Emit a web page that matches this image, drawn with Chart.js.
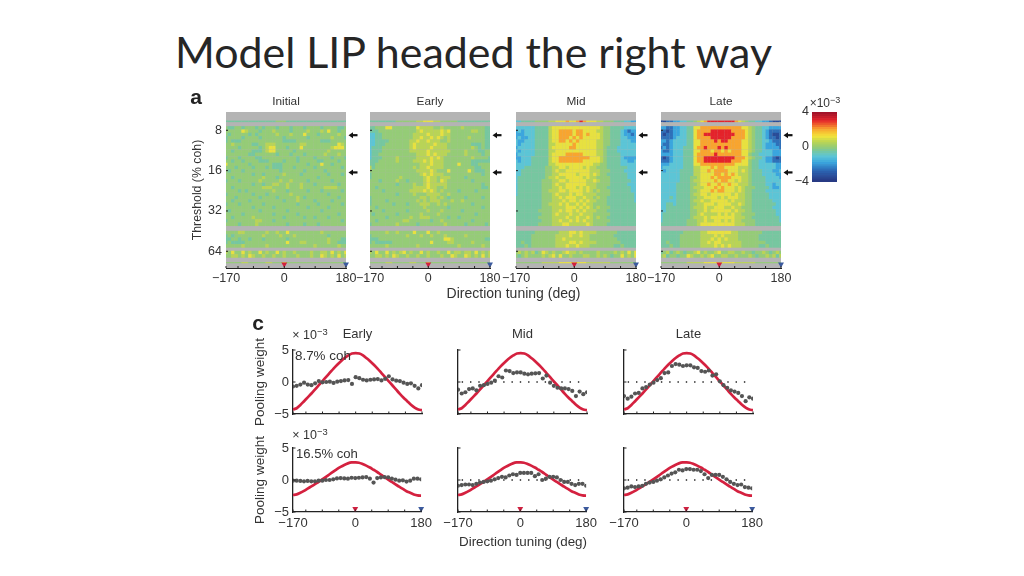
<!DOCTYPE html>
<html><head><meta charset="utf-8">
<script src="https://cdn.jsdelivr.net/npm/chart.js@4"></script>
<style>
html,body{margin:0;padding:0;background:#fff;width:1024px;height:576px;overflow:hidden}
#fig{position:absolute;left:0;top:0;width:1024px;height:576px;filter:blur(0.55px)}
#fig canvas{position:absolute}
.t{position:absolute;font-family:"Liberation Sans",Arial,sans-serif;color:#333;white-space:nowrap;transform:translate(-50%,-50%)}
.t sup{font-size:75%;line-height:0;vertical-align:0.45em}
#title{position:absolute;left:175px;top:24px;font-family:Lato,sans-serif;font-size:42.9px;color:#262626;white-space:nowrap;line-height:56px}
</style></head><body>
<div id="title">Model LIP headed the right way</div>
<div id="fig"></div>
<script>
// ---------- data ----------
const tuningDeg=[-170,-160,-150,-140,-130,-120,-110,-100,-90,-80,-70,-60,-50,-40,-30,-20,-10,0,10,20,30,40,50,60,70,80,90,100,110,120,130,140,150,160,170,180];
const rowThresholds=[6.86,7.68,8.13,8.61,9.11,9.65,10.2,10.8,11.5,12.1,12.9,13.6,14.4,15.2,16.1,17.1,18.1,19.1,20.3,21.5,22.7,24.1,25.5,27.0,28.5,30.2,32.0,33.9,35.9,38.0,40.2,46.4,49.2,52.0,55.1,58.3,65.4,69.3,77.8];
const heatTitles=["Initial","Early","Mid","Late"];
const thresholdTicks=[8,16,32,64];
const arrowThresholds=[8.7,16.5];
const tuningTicks=[-170,-135,-90,-45,0,45,90,135,180];
const heatLevels=[-3.4,-2.6,-1.8,-1.1,-0.5,-0.05,0.5,1.05,2,3];
const heatInitial=[
"4444444444 4444455544444444 4444444444",
"5445545554 5455545554555455 5545555445",
"5555576555 4555655554555565 5565755455",
"5455555454 5555565556555755 5455555655",
"4555545555 4555555455555545 5555565554",
"4544455555 5555555444455555 5544455555",
"5565555544 5566655555556655 5555555765",
"5555455555 4567755545557555 5555567775",
"5545555544 4567755555455555 5555655555",
"5555555445 5555545554555455 5556555655",
"4555455554 4555555555545555 4555545554",
"5545545555 4445555455545555 5445555455",
"7555555455 5555444555555545 5575545555",
"5554555545 5545444555455555 4555555545",
"5455545555 5555554555555455 5554555555",
"5555555545 5455555655554555 5555455545",
"5545555555 5655545555555555 5455555555",
"4555455555 6555556556555545 5555545555",
"5555555545 5455665565556555 4555555455",
"5545555555 5666555565556555 5556666555",
"5555454555 5555655545555545 5545555545",
"4555555545 5545555556555555 5555455555",
"5554555555 4555545555565455 5555555455",
"5545555455 5555555455565555 4555545555",
"4555455555 5455555555545555 5455555545",
"5555555545 5555455555555545 5555455555",
"5455555555 4555555545555555 5545555555",
"5555545555 5555455555545555 5555555455",
"5545555565 5555555455555455 4555455555",
"4555555556 6555455555555555 5555555545",
"5555455556 5555555545555455 5455555555",
"5555665555 5565565575555555 5565555555",
"4545555555 5655556555655555 5555455555",
"4455455455 5455555545555555 5555655544",
"4544445555 5555555575556655 5555655444",
"5555565555 5565555555555555 6555555655",
"6575575655 7565575655655556 5566575657",
"5566565765 5655655655565556 5576565756",
"5555566555 5566555755555555 5555555555"];
const heatEarly=[
"4444444455 5555667776655555 4444444444",
"4455577555 5555766665565555 5655555544",
"4445555555 5555676666676755 5555665544",
"3344555555 5556666766676655 5555555544",
"3344555555 5556676676765655 5556555544",
"3344445555 5566766766655655 5555555544",
"3344455555 5567666667666555 5555444544",
"3444555555 5567666676666555 5555654544",
"3444555555 5566666766666655 5565554455",
"3445555555 5555666767666555 5565555455",
"3444555565 5555666676765555 5555655554",
"4445555565 5556667676665555 5555444444",
"4455555555 5555566676665555 7555445555",
"6455555555 5556566766665555 5555544555",
"5555555555 5555666676555755 5557544455",
"4555555555 5555567676665555 5555555455",
"4555555556 5555556766566655 5545555555",
"5554555565 5455556766576555 5555455555",
"5555555545 5556556766666555 5555555455",
"5545555555 5556666766556555 5555555445",
"5555455555 5566667676565555 4555545555",
"5555555545 5556555666655655 5555555555",
"4555555555 5555566566565455 5545555455",
"4555545555 5555656566655565 5655555555",
"4555555455 5455566655656555 5555455555",
"5545555555 5555556555555455 5555555455",
"5555455555 5455555655565555 5455555555",
"5455555545 5555565555655555 5555545555",
"5555545555 5565566655555455 4555555555",
"5545555555 6655555545565555 5555455555",
"4555555565 5555455555556555 5545555545",
"5555565565 5557555755655555 5555555555",
"4555555555 5655565565556555 5565555555",
"4445555555 5555555555557765 5555555544",
"4544444555 5555555575555665 5555655555",
"5555565555 5555655555555555 6555555655",
"6575575656 7565575655655756 6566575656",
"5566565765 5655655655565576 5576565756",
"5555566555 5566555755555555 5555555555"];
const heatMid=[
"3344445555 6677787789877766 5554443322",
"3333334444 6777777777777776 5544443333",
"2323334444 6778888788777766 5544432122",
"2223334444 6778888788787776 5544432212",
"2322334444 6778887878777776 5544433222",
"3223334444 6778878787777766 5544433322",
"3233334444 6677777877777766 5544433333",
"2333334444 6777778877777766 5444333333",
"3233334444 6677777777777766 5444333333",
"2333334444 6777788888777766 5444433333",
"2233344444 6778888888887776 5444432222",
"3233344444 6778888888777776 5444433223",
"3333344444 6677777777777665 5444433333",
"3334444445 5667767777676655 5444444333",
"3344444445 5676677777776665 5544443333",
"3344444445 5667777767776765 5444444333",
"3444444445 6676677777676655 5544444333",
"3444444455 5667767777766765 5544444433",
"3444444455 5676677777766655 5544444333",
"3444444455 5667677767676655 5444444433",
"3444444455 6667767777676565 5544444433",
"3444444455 5676667677666655 5544444443",
"4444444455 5667677766766565 5444444443",
"4444444455 5666767767676655 5444444443",
"4444444455 6667676676766555 5444444444",
"4444444455 5666677767676565 5544444444",
"4444444555 5667677676766655 5444444444",
"4444444455 5676667667666555 5544444444",
"4444444555 5666676676676565 5444444444",
"4444444455 5667667676766555 5544444444",
"4444444555 5666776666676555 5444444444",
"4444445555 5556667767666655 5555444444",
"4444455555 5566667667665555 5554444444",
"4444455555 5566766666665555 5555444444",
"4454455555 5566667767666655 5555544444",
"4445455555 5566676676665555 5554454444",
"5656564576 5655676656555565 5556565757",
"5456555565 6757556555665565 6545575657",
"5555555566 6667777777766666 6655555555"];
const heatLate=[
"0011223344 5678999999998765 4433221000",
"2211223344 7788888888888877 6544332222",
"1101223344 7888899999988887 6544321111",
"1011223344 7889999999998887 6544321001",
"1111233344 7888899999988887 6544321101",
"2212333344 7788889899888877 6544332111",
"2112333344 7788888888888877 6544322211",
"1212333444 7889888989888877 6544322221",
"2112333444 7788878878788877 6544333222",
"2222333444 7888889888888877 5443333222",
"1012333444 7889999999998887 6544322101",
"1112333444 7889999999988877 5443322111",
"2223333444 7788888888887777 5443333322",
"2333333444 6677787887777666 5443333322",
"3233334444 6677878888777676 5444333223",
"3333334444 6677778878787666 5444333322",
"3333334445 5677787888877766 5444433332",
"3333334445 6677778788776766 5444433333",
"3333344445 5677877877877666 5444433233",
"3333344445 6667778787776765 5544443223",
"3333344445 5677787887776765 5444433333",
"3333344445 6677677777767665 5444443333",
"3334344445 5667777676777665 5444443333",
"3333344445 6676677777676665 5444444333",
"3344344445 5667776777766765 5444444433",
"3344444445 6667667776676655 5444444333",
"3344444445 5667677777767665 5444444433",
"3444444445 5676666767676655 5544444433",
"3444444445 6667677777776665 5444444443",
"3444444455 5667667767676655 5544444443",
"4444444455 5677777777776665 5544444444",
"4444444555 5566777777766555 5555444444",
"4444445555 5566667676666555 5554444444",
"4444445555 5566676767666555 5554444444",
"4454445555 5566767766666655 5555544444",
"4445445555 5566667676766655 5554454444",
"4564565455 6756556755665565 5455654565",
"5645545576 5565675566556555 6545565646",
"5555555566 6667777777776666 6655555555"];
const colorbarEdges=[-4,-3.75,-3.5,-3.25,-3,-2.75,-2.5,-2.25,-2,-1.75,-1.5,-1.25,-1,-0.75,-0.5,-0.25,0,0.25,0.5,0.75,1,1.25,1.5,1.75,2,2.25,2.5,2.75,3,3.25,3.5,3.75,4];
const colorbarTicks=[4,0,-4];
const weightTicks=[5,0,-5];
const redTop=[-4.3,-4.1,-3.6,-3.0,-2.4,-1.8,-1.15,-0.5,0.15,0.8,1.45,2.1,2.7,3.25,3.75,4.15,4.45,4.5,4.45,4.15,3.7,3.2,2.65,2.05,1.4,0.75,0.1,-0.55,-1.2,-1.85,-2.45,-3.0,-3.55,-4.0,-4.3,-4.4];
const redBottom=[-2.35,-2.25,-2.0,-1.7,-1.35,-1.0,-0.65,-0.3,0.1,0.5,0.9,1.3,1.7,2.05,2.35,2.6,2.75,2.75,2.7,2.5,2.25,1.95,1.6,1.25,0.85,0.45,0.05,-0.3,-0.7,-1.05,-1.4,-1.75,-2.0,-2.25,-2.4,-2.45];
const dotsEarlyTop=[-0.7,-0.6,-0.4,-0.1,-0.4,-0.5,-0.2,0.15,-0.05,0,0.05,-0.15,0.05,0.15,0.25,0.3,-0.3,0.75,0.6,0.35,0.25,0.35,0.4,0.45,0.25,0.5,0.9,0.4,0.2,0.15,-0.1,-0.3,-0.2,-0.6,-1.0,-0.5];
const dotsEarlyBottom=[-0.1,-0.1,-0.15,-0.2,-0.15,-0.2,-0.2,-0.1,-0.1,0,0,0.1,0.25,0.3,0.25,0.2,0.35,0.3,0.35,0.4,0.45,0.2,-0.4,0.3,0.4,0.45,0.4,0.2,0.05,-0.1,-0.05,-0.25,-0.1,0.2,0.2,0.1];
const dotsMidTop=[-1.2,-1.8,-1.6,-1.1,-1.0,-1.3,-0.6,-0.5,-0.3,-0.1,0.2,0.9,0.7,1.8,1.7,1.4,1.5,1.5,1.3,1.2,1.3,1.35,1.4,0.55,1.0,-0.1,-0.6,-0.9,-1.0,-1.0,-1.1,-1.4,-2.2,-1.5,-1.9,-1.6];
const dotsMidBottom=[-0.9,-0.8,-0.7,-0.7,-0.8,-0.6,-0.4,-0.3,-0.2,-0.1,0.1,0.3,0.5,0.4,0.7,0.9,0.8,1.1,1.1,1.1,1.1,0.6,0.9,0,0.2,0.5,0.5,0.4,0,-0.3,-0.3,-0.6,-0.8,-0.6,-0.6,-0.9];
const dotsLateTop=[-2.2,-2.6,-2.3,-1.8,-1.7,-1.0,-0.8,-0.4,-0.1,0.3,0.6,1.4,1.5,2.5,2.8,2.7,2.5,2.6,2.6,2.3,2.2,1.7,1.6,1.8,1.0,1.2,0.1,-0.5,-0.9,-1.3,-1.5,-1.7,-2.2,-3.0,-2.4,-2.6];
const dotsLateBottom=[-1.3,-1.2,-1.0,-1.1,-1.0,-0.9,-0.6,-0.4,-0.3,-0.1,0.1,0.4,0.7,1.0,1.2,1.6,1.5,1.7,1.7,1.6,1.6,1.4,0.9,0.3,0.8,0.8,0.8,0.5,0.1,-0.3,-0.6,-0.8,-0.7,-1.1,-1.2,-1.3];
const zeroLineX=[-160,170];
const cueDirections=[0,180];

// ---------- helpers ----------
const FONT='"Liberation Sans", Arial, sans-serif';
const INK='#333';
const stops=[[-4,[39,53,127]],[-2.8,[43,98,176]],[-1.8,[58,166,222]],[-1.1,[92,197,214]],[-0.5,[118,199,160]],[0,[152,204,114]],[0.6,[191,214,80]],[1.2,[244,228,58]],[2,[248,165,47]],[3,[228,35,43]],[4,[151,17,42]]];
function cmap(v){
  for(let i=1;i<stops.length;i++){
    if(v<=stops[i][0]){
      const a=stops[i-1],b=stops[i],f=(v-a[0])/(b[0]-a[0]);
      return 'rgb('+a[1].map((c,k)=>Math.round(c+(b[1][k]-c)*f)).join(',')+')';
    }
  }
  return 'rgb(151,17,42)';
}
const fig=document.getElementById('fig');
function label(html,x,y,o={}){
  const d=document.createElement('div');d.className='t';d.innerHTML=html;
  d.style.left=x+'px';d.style.top=y+'px';d.style.fontSize=(o.size||12)+'px';
  if(o.weight)d.style.fontWeight=o.weight;
  if(o.color)d.style.color=o.color;
  if(o.left)d.style.transform='translate(0,-50%)';
  fig.appendChild(d);
}
function makeCanvas(box,m){
  const c=document.createElement('canvas');
  c.width=Math.ceil(box.w+m.l+m.r);c.height=Math.ceil(box.h+m.t+m.b);
  c.style.left=(box.l-m.l)+'px';c.style.top=(box.t-m.t)+'px';
  fig.appendChild(c);return c;
}
const innerTicks={id:'innerTicks',afterDraw(ch,_,o){
  const {ctx,chartArea:a,scales}=ch;ctx.save();ctx.strokeStyle='#222';ctx.lineWidth=1;
  scales.x.ticks.forEach(t=>{const p=scales.x.getPixelForValue(t.value);ctx.beginPath();ctx.moveTo(p,a.bottom);ctx.lineTo(p,a.bottom-(o.len||2));ctx.stroke();});
  scales.y.ticks.forEach(t=>{const p=scales.y.getPixelForValue(t.value);ctx.beginPath();ctx.moveTo(a.left,p);ctx.lineTo(a.left+(o.len||2),p);ctx.stroke();});
  ctx.restore();
}};
const plotBg={id:'plotBg',beforeDatasetsDraw(ch,_,o){
  if(!o.color)return;const {ctx,chartArea:a}=ch;ctx.save();ctx.fillStyle=o.color;ctx.fillRect(a.left,a.top,a.right-a.left,a.bottom-a.top);ctx.restore();
}};
const arrows={id:'arrows',afterDraw(ch,_,o){
  if(!o.values)return;const {ctx,chartArea:a,scales}=ch;ctx.save();ctx.fillStyle='#111';ctx.strokeStyle='#111';ctx.lineWidth=2.2;
  o.values.forEach(v=>{const y=scales.y.getPixelForValue(v),x=a.right+2.5;
    ctx.beginPath();ctx.moveTo(x,y);ctx.lineTo(x+4.5,y-3);ctx.lineTo(x+4.5,y+3);ctx.closePath();ctx.fill();
    ctx.beginPath();ctx.moveTo(x+4,y);ctx.lineTo(x+9,y);ctx.stroke();});
  ctx.restore();
}};
function titleOpt(text,m,gap){
  return text?{display:true,text,color:INK,fullSize:false,font:{family:FONT,size:m.titleSize||12,lineHeight:1.2,weight:'normal'},padding:{top:m.t-(m.titleSize||12)*1.2-gap,bottom:gap}}:{display:false};
}
function axisLabel(vals,show){return v=>show&&vals.includes(v)?String(v).replace('-','\u2212'):'';}
function decode(rows,from,to){
  const pts=[],cols=[];
  for(let r=from;r<=to;r++){
    const s=rows[r].replace(/ /g,'');
    for(let c=0;c<tuningDeg.length;c++){
      pts.push({x:tuningDeg[c],y:rowThresholds[r]});
      cols.push(cmap(heatLevels[+s[c]]));
    }
  }
  return {pts,cols};
}
function cues(y){
  return [{data:[{x:cueDirections[0],y}],pointStyle:'triangle',rotation:180,pointRadius:3.4,pointBackgroundColor:'#cf2140',pointBorderWidth:0,clip:false},
          {data:[{x:cueDirections[1],y}],pointStyle:'triangle',rotation:180,pointRadius:3.4,pointBackgroundColor:'#3b5a9e',pointBorderWidth:0,clip:false}];
}
// ---------- heat panels ----------
function heatPanel(rows,title,left,first){
  const box={l:left,t:111.7,w:119.5,h:156},m={l:40,t:30,r:24,b:20,titleSize:11.8};
  const main=decode(rows,1,37),thin=decode(rows,0,0),thin2=decode(rows,38,38);
  const datasets=[...cues(80),
    {data:thin.pts,pointStyle:'line',pointRadius:1.75,pointBorderWidth:1.5,pointBorderColor:thin.cols},
    {data:thin2.pts,pointStyle:'line',pointRadius:1.75,pointBorderWidth:1.2,pointBorderColor:thin2.cols},
    {data:main.pts,pointStyle:'rect',pointRadius:2.55,pointBorderWidth:0,pointBackgroundColor:main.cols}];
  new Chart(makeCanvas(box,m),{type:'scatter',data:{datasets},plugins:[plotBg,innerTicks,arrows],options:{
    responsive:false,animation:false,events:[],
    layout:{padding:{left:0,right:m.r,top:0,bottom:0}},
    plugins:{legend:{display:false},tooltip:{enabled:false},title:titleOpt(title,m,3),plotBg:{color:'#b4b4b4'},innerTicks:{len:2},arrows:{values:arrowThresholds}},
    scales:{
      x:{type:'linear',min:-170,max:180,afterBuildTicks:s=>{s.ticks=tuningTicks.map(value=>({value}));},afterFit:s=>{s.height=m.b;},
        grid:{display:false,drawTicks:false},border:{display:true,color:'#222',width:1},
        ticks:{autoSkip:false,maxRotation:0,padding:3,color:INK,font:{family:FONT,size:12.5},callback:axisLabel([-170,0,180],true)}},
      y:{type:'logarithmic',reverse:true,min:5.84,max:85.3,afterBuildTicks:s=>{s.ticks=thresholdTicks.map(value=>({value}));},afterFit:s=>{s.width=m.l;},
        grid:{display:false,drawTicks:false},border:{display:true,color:'#222',width:1},
        title:{display:first,text:'Threshold (% coh)',color:INK,font:{family:FONT,size:12.3},padding:{top:4,bottom:0}},
        ticks:{autoSkip:false,padding:4,color:INK,font:{family:FONT,size:12.5},callback:axisLabel(thresholdTicks,first)}}
    }}});
}
heatPanel(heatInitial,heatTitles[0],225.7,true);
heatPanel(heatEarly,heatTitles[1],370.3,false);
heatPanel(heatMid,heatTitles[2],515.5,false);
heatPanel(heatLate,heatTitles[3],660.5,false);

// ---------- colour bar ----------
(function(){
  const box={l:812,t:111.5,w:25,h:69.5},m={l:18,t:14,r:2,b:14};
  const datasets=[];
  for(let i=0;i<colorbarEdges.length-1;i++){
    const lo=colorbarEdges[i],hi=colorbarEdges[i+1];
    datasets.push({data:[[lo,hi]],backgroundColor:cmap((lo+hi)/2),grouped:false,barPercentage:1,categoryPercentage:1,borderWidth:0});
  }
  new Chart(makeCanvas(box,m),{type:'bar',data:{labels:['scale'],datasets},options:{
    responsive:false,animation:false,events:[],
    layout:{padding:{left:0,right:m.r,top:m.t,bottom:0}},
    plugins:{legend:{display:false},tooltip:{enabled:false}},
    scales:{
      x:{display:true,grid:{display:false,drawTicks:false},border:{display:false},ticks:{display:false},afterFit:s=>{s.height=m.b;}},
      y:{min:-4,max:4,afterBuildTicks:s=>{s.ticks=colorbarTicks.map(value=>({value}));},afterFit:s=>{s.width=m.l;},
        grid:{display:false,drawTicks:false},border:{display:false},
        ticks:{autoSkip:false,padding:3,color:INK,font:{family:FONT,size:12.5},callback:axisLabel(colorbarTicks,true)}}
    }}});
})();

// ---------- pooling panels ----------
function linePanel(o){
  const box={l:o.left,t:o.top,w:129,h:64},m={l:46,t:35,r:14,b:o.bottom?20:14,titleSize:13};
  const xy=(arr)=>tuningDeg.map((x,i)=>({x,y:arr[i]}));
  const datasets=[
    {data:xy(o.dots),pointStyle:'circle',pointRadius:2.1,pointBackgroundColor:'#555',pointBorderWidth:0,showLine:false},
    {data:xy(o.red),showLine:true,borderColor:'#d4213f',borderWidth:2.7,pointRadius:0,tension:0.3}];
  if(o.zero)datasets.push({data:o.zero.map(x=>({x,y:0})),showLine:true,borderColor:'#222',borderWidth:1.3,borderDash:[1.4,6.9],pointRadius:0});
  if(o.bottom)datasets.unshift(...cues(-4.5));
  const first=o.first;
  new Chart(makeCanvas(box,m),{type:'scatter',data:{datasets},plugins:[innerTicks],options:{
    responsive:false,animation:false,events:[],
    layout:{padding:{left:0,right:m.r,top:o.title?0:m.t,bottom:0}},
    plugins:{legend:{display:false},tooltip:{enabled:false},title:titleOpt(o.title,m,8),innerTicks:{len:2.5}},
    scales:{
      x:{type:'linear',min:-170,max:180,afterBuildTicks:s=>{s.ticks=tuningTicks.map(value=>({value}));},afterFit:s=>{s.height=m.b;},
        grid:{display:false,drawTicks:false},border:{display:true,color:'#222',width:1.3},
        ticks:{autoSkip:false,maxRotation:0,padding:4,color:INK,font:{family:FONT,size:13},callback:axisLabel([-170,0,180],o.bottom)}},
      y:{type:'linear',min:-5,max:5,afterBuildTicks:s=>{s.ticks=weightTicks.map(value=>({value}));},afterFit:s=>{s.width=m.l;},
        grid:{display:false,drawTicks:false},border:{display:true,color:'#222',width:1.3},
        title:{display:first,text:'Pooling weight',color:INK,font:{family:FONT,size:13.5},padding:{top:5,bottom:0}},
        ticks:{autoSkip:false,padding:4,color:INK,font:{family:FONT,size:13},callback:axisLabel(weightTicks,first)}}
    }}});
}
linePanel({left:292.7,top:349.5,red:redTop,dots:dotsEarlyTop,title:'Early',first:true});
linePanel({left:458,top:349.5,red:redTop,dots:dotsMidTop,title:'Mid',zero:zeroLineX});
linePanel({left:624,top:349.5,red:redTop,dots:dotsLateTop,title:'Late',zero:zeroLineX});
linePanel({left:292.7,top:448,red:redBottom,dots:dotsEarlyBottom,first:true,bottom:true});
linePanel({left:458,top:448,red:redBottom,dots:dotsMidBottom,zero:zeroLineX,bottom:true});
linePanel({left:624,top:448,red:redBottom,dots:dotsLateBottom,zero:zeroLineX,bottom:true});

// ---------- free text ----------
label('a',196,97,{size:21,weight:'bold',color:'#222'});
label('c',258,323,{size:21,weight:'bold',color:'#222'});
label('Direction tuning (deg)',513.5,293,{size:14});
label('Direction tuning (deg)',523,541,{size:13.4});
label('×10<sup>−3</sup>',825,103,{size:12});
label('× 10<sup>−3</sup>',310,335,{size:12.5});
label('× 10<sup>−3</sup>',310,435,{size:12.5});
label('8.7% coh',295,354.5,{size:13.4,left:true});
label('16.5% coh',296,453,{size:13.1,left:true});
</script>
</body></html>
